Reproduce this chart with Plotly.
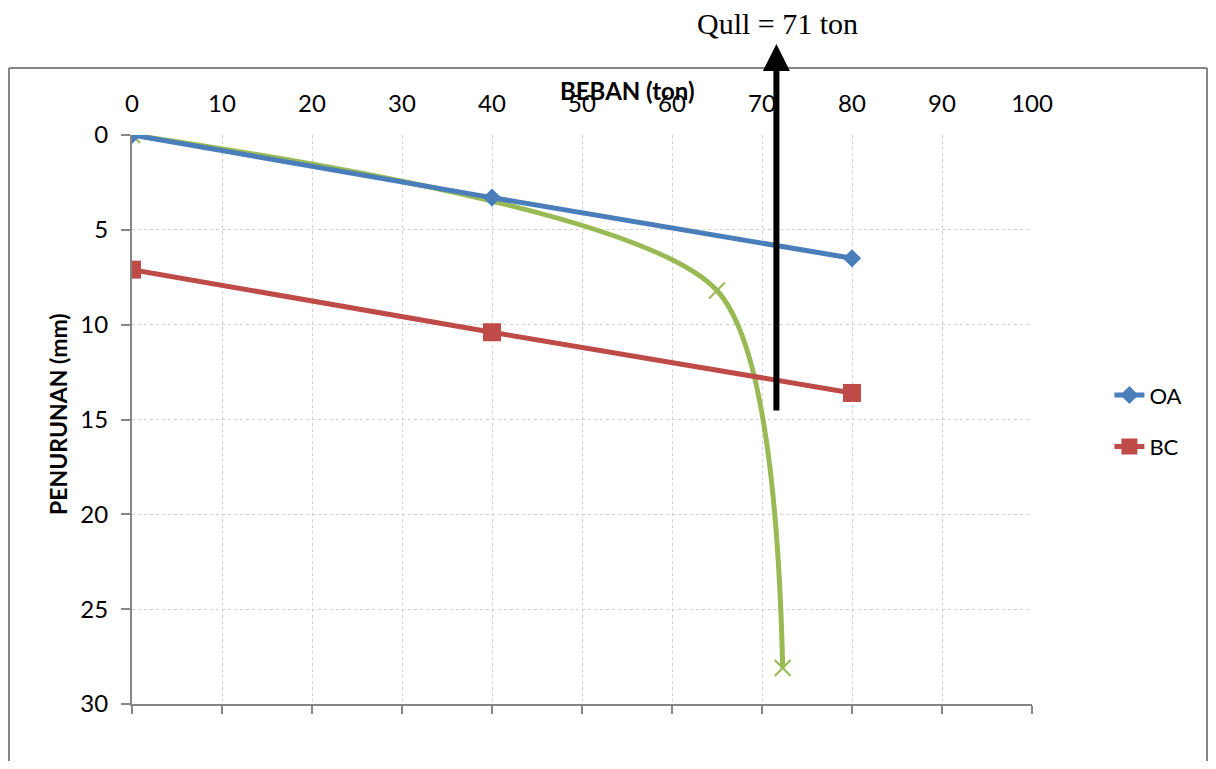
import plotly.graph_objects as go

# ---- data ----
beban_oa = [0, 40, 80]
penurunan_oa = [0, 3.3, 6.5]
beban_bc = [0, 40, 80]
penurunan_bc = [7.1, 10.4, 13.6]
beban_curve = [0, 65, 72.3]
penurunan_curve = [0, 8.2, 28.1]
qull_value = 71.6
x_ticks = [0, 10, 20, 30, 40, 50, 60, 70, 80, 90, 100]
y_ticks = [0, 5, 10, 15, 20, 25, 30]

BLUE = "#4a7ebb"
RED = "#be4b48"
GREEN = "#98b954"
GREY = "#868686"
FONT = "Lato"

fig = go.Figure()

fig.add_trace(go.Scatter(
    x=beban_curve, y=penurunan_curve, mode="lines+markers",
    line=dict(color=GREEN, width=5, shape="spline", smoothing=0.72),
    marker=dict(symbol="x-thin", size=16, line=dict(width=2, color=GREEN), color=GREEN),
    showlegend=False, hoverinfo="skip"))

fig.add_trace(go.Scatter(
    x=beban_oa, y=penurunan_oa, mode="lines+markers", name="OA",
    legendgroup="oa",
    line=dict(color=BLUE, width=5),
    marker=dict(symbol="diamond", size=14, color=BLUE)))

fig.add_trace(go.Scatter(
    x=beban_bc, y=penurunan_bc, mode="lines+markers", name="BC",
    legendgroup="bc",
    line=dict(color=RED, width=5),
    marker=dict(symbol="square", size=18, color=RED)))

# dummy trace to carry the bottom axis
fig.add_trace(go.Scatter(x=[], y=[], xaxis="x2", showlegend=False, hoverinfo="skip"))

fig.update_layout(
    width=1200, height=753,
    margin=dict(l=124, r=176, t=127, b=57),
    paper_bgcolor="white", plot_bgcolor="white",
    font=dict(family=FONT, size=24, color="black"),
    xaxis=dict(
        range=[0, 100], side="top", tickvals=x_ticks,
        showline=False, zeroline=False,
        showgrid=True, gridcolor="#d0d0d0", griddash="dot", gridwidth=1,
        ticks="outside", ticklen=12, tickcolor="rgba(0,0,0,0)",
        tickfont=dict(family=FONT, size=24),
    ),
    xaxis2=dict(
        range=[0, 100], overlaying="x", side="bottom", anchor="y",
        tickvals=x_ticks, showticklabels=False, showgrid=False, zeroline=False,
        showline=True, linecolor=GREY, linewidth=2,
        ticks="outside", ticklen=8, tickcolor=GREY, tickwidth=2,
    ),
    yaxis=dict(
        range=[30, 0], tickvals=y_ticks,
        showline=True, linecolor=GREY, linewidth=2,
        zeroline=True, zerolinecolor="rgba(0,0,0,0)",
        showgrid=True, gridcolor="#d0d0d0", griddash="dot", gridwidth=1,
        ticks="outside", ticklen=9, tickcolor=GREY, tickwidth=2,
        ticklabelstandoff=8,
        tickfont=dict(family=FONT, size=24),
    ),
    legend=dict(
        x=1.086, xanchor="left", y=0.497, yanchor="middle",
        font=dict(family=FONT, size=22), tracegroupgap=20,
        bgcolor="rgba(0,0,0,0)",
    ),
    showlegend=True,
)

# outer chart border (top, left, right; bottom is cut off in the reference)
bx0 = (1 - 124) / 900
bx1 = (1199 - 124) / 900
by_top = (696 - 60) / 569
by_bot = (696 - 760) / 569
for (xa, ya, xb, yb) in [(bx0, by_top, bx1, by_top), (bx0, by_top, bx0, by_bot), (bx1, by_top, bx1, by_bot)]:
    fig.add_shape(type="line", xref="paper", yref="paper", x0=xa, y0=ya, x1=xb, y1=yb,
                  line=dict(color=GREY, width=2), layer="below")

# axis titles
fig.add_annotation(text="<b>BEBAN (ton)</b>", xref="paper", yref="paper",
                   x=(627 - 132) / 900, y=(704 - 91) / 569, showarrow=False,
                   xanchor="center", yanchor="middle",
                   font=dict(family=FONT, size=24, color="black"))
fig.add_annotation(text="<b>PENURUNAN (mm)</b>", xref="paper", yref="paper",
                   x=(58 - 132) / 900, y=(704 - 414) / 569, textangle=-90, showarrow=False,
                   xanchor="center", yanchor="middle",
                   font=dict(family=FONT, size=23, color="black"))

# Qull arrow
fig.add_annotation(x=qull_value, xref="x", y=(704 - 44) / 569, yref="paper",
                   ax=0, ay=(412 - 44), axref="pixel", ayref="pixel", text="",
                   showarrow=True, arrowhead=2, arrowsize=0.9, arrowwidth=6, arrowcolor="black")
fig.add_annotation(text="Qull = 71 ton", x=(777 - 132) / 900, xref="paper",
                   y=(704 - 23) / 569, yref="paper", showarrow=False,
                   xanchor="center", yanchor="middle",
                   font=dict(family="Liberation Serif", size=30, color="black"))

fig.write_html("out.html")
